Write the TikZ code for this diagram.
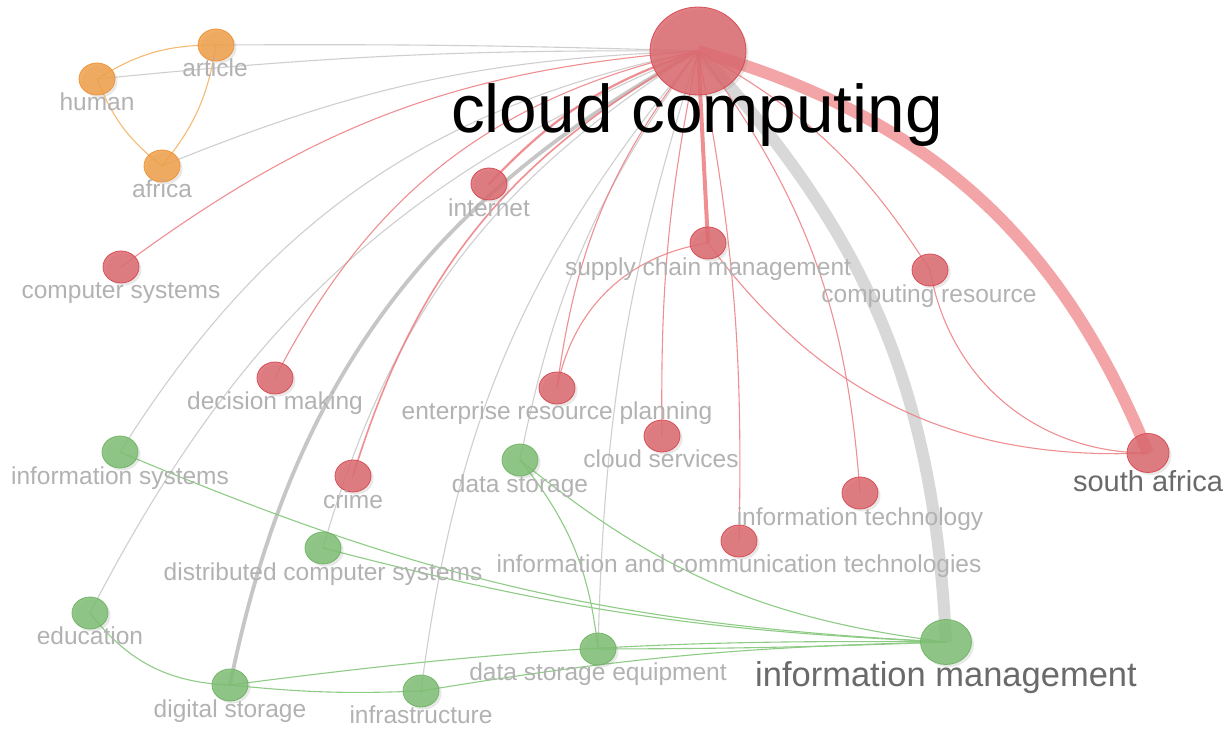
\documentclass[tikz,border=0pt]{standalone}
\usepackage{fontspec}
\setmainfont{Liberation Sans}
\usetikzlibrary{shapes.geometric,shadows}
\definecolor{rfill}{HTML}{DB6A70}
\definecolor{rdraw}{HTML}{D9444D}
\definecolor{ofill}{HTML}{F0A04A}
\definecolor{odraw}{HTML}{EE9030}
\definecolor{gfill}{HTML}{7FBE74}
\definecolor{gdraw}{HTML}{6DB262}
\definecolor{redge}{HTML}{EE7C80}
\definecolor{rthick}{HTML}{F3A0A3}
\definecolor{gedge}{HTML}{8ECC85}
\definecolor{oedge}{HTML}{F8BA72}
\definecolor{grayedge}{HTML}{CFCFCF}
\definecolor{grthick}{HTML}{D8D8D8}
\definecolor{grmid}{HTML}{C6C6C6}
\definecolor{lblgray}{HTML}{B2B2B2}
\definecolor{lbldark}{HTML}{6A6A6A}
\begin{document}
\begin{tikzpicture}[x=1pt,y=-1pt,
  vnode/.style={ellipse,inner sep=0pt,minimum width=36pt,minimum height=32pt,line width=0.8pt,
     fill opacity=0.85,draw opacity=0.9,
     drop shadow={shadow xshift=2.5pt,shadow yshift=-2.5pt,opacity=0.18}},
  rnode/.style={vnode,fill=rfill,draw=rdraw},
  onode/.style={vnode,fill=ofill,draw=odraw},
  gnode/.style={vnode,fill=gfill,draw=gdraw},
  lbl/.style={anchor=base,inner sep=0pt,text=lblgray,font=\fontsize{24.5}{24.5}\selectfont},
  e/.style={line width=1.1pt,line cap=round},
  re/.style={e,draw=redge,draw opacity=0.85},
  ge/.style={e,draw=grayedge},
  gre/.style={e,draw=gedge},
  oe/.style={e,draw=oedge},
]
\useasboundingbox (0,0) rectangle (1231,730);
\fill[white] (0,0) rectangle (1231,730);

\path
 (698,51) coordinate (cc0)
 (216,45) coordinate (art0)
 (97,79) coordinate (hum0)
 (162,166) coordinate (afr0)
 (121,267) coordinate (cs0)
 (489,184) coordinate (int0)
 (708,243) coordinate (scm0)
 (930,270) coordinate (cr0)
 (275,378) coordinate (dm0)
 (557,388) coordinate (erp0)
 (662,436) coordinate (csv0)
 (120,452) coordinate (is0)
 (353,476) coordinate (cri0)
 (520,460) coordinate (dst0)
 (1148,453) coordinate (sa0)
 (860,493) coordinate (it0)
 (739,541) coordinate (ict0)
 (323,548) coordinate (dcs0)
 (90,613) coordinate (edu0)
 (598,649) coordinate (dse0)
 (946,642) coordinate (im0)
 (230,685) coordinate (digs0)
 (421,691) coordinate (inf0);

% thick edges
\draw[e,draw=grthick,line width=12pt,line cap=butt] (cc0) to[bend left=20] (im0);
\draw[e,draw=rthick,line width=12pt,line cap=butt,draw opacity=0.95] (cc0) to[bend left=26] (sa0);
\draw[ge,line width=3.8pt,draw=grmid] (cc0) to[bend right=25] (digs0);

% gray edges from cloud computing
\draw[ge] (cc0) to[bend right=3] (hum0);
\draw[ge] (cc0) to[bend right=1] (art0);
\draw[ge] (cc0) to[bend right=10] (afr0);
\draw[ge] (cc0) to[bend right=23] (is0);
\draw[ge] (cc0) to[bend right=20] (edu0);
\draw[ge] (cc0) to[bend right=21] (dcs0);
\draw[ge] (cc0) to[bend right=16] (inf0);
\draw[ge] (cc0) to[bend right=12] (dst0);
\draw[ge] (cc0) to[bend right=8] (dse0);

% red edges from cloud computing
\draw[re] (cc0) to[bend right=16] (cs0);
\draw[re] (cc0) to[bend right=25] (dm0);
\draw[re,line width=2.2pt] (cc0) to[bend right=14] (int0);
\draw[re,line width=1.6pt] (cc0) to[bend right=22] (cri0);
\draw[re] (cc0) to[bend right=15] (erp0);
\draw[re] (cc0) to[bend right=6] (csv0);
\draw[re,line width=4pt,line cap=butt] (cc0) -- (scm0);
\draw[re] (cc0) to[bend left=6] (ict0);
\draw[re] (cc0) to[bend left=16] (it0);
\draw[re] (cc0) to[bend left=14] (cr0);

% other red edges
\draw[re] (scm0) to[bend right=35] (erp0);
\draw[re] (scm0) to[bend right=28] (sa0);
\draw[re] (cr0) to[bend right=40] (sa0);

% orange edges
\draw[oe] (hum0) to[bend left=16] (art0);
\draw[oe] (hum0) to[bend right=15] (afr0);
\draw[oe] (art0) to[bend left=15] (afr0);

% green edges
\draw[gre] (is0) to[bend right=10] (im0);
\draw[gre] (dcs0) to[bend right=6] (im0);
\draw[gre] (dst0) to[bend right=16] (im0);
\draw[gre] (dst0) to[bend left=16] (dse0);
\draw[gre] (dse0) to[bend right=1] (im0);
\draw[gre] (digs0) to[bend left=4] (im0);
\draw[gre] (digs0) to[bend right=4] (inf0);
\draw[gre] (inf0) to[bend left=4] (im0);
\draw[gre] (edu0) to[bend right=25] (digs0);

% ---------- nodes ----------
\node[rnode,minimum width=96pt,minimum height=88pt] (cc) at (cc0) {};
\node[onode] (art) at (art0) {};
\node[onode] (hum) at (hum0) {};
\node[onode] (afr) at (afr0) {};
\node[rnode] (cs) at (cs0) {};
\node[rnode] (int) at (int0) {};
\node[rnode] (scm) at (scm0) {};
\node[rnode] (cr) at (cr0) {};
\node[rnode] (dm) at (dm0) {};
\node[rnode] (erp) at (erp0) {};
\node[rnode] (csv) at (csv0) {};
\node[gnode] (is) at (is0) {};
\node[rnode] (cri) at (cri0) {};
\node[gnode] (dst) at (dst0) {};
\node[rnode,minimum width=42pt,minimum height=39pt] (sa) at (sa0) {};
\node[rnode] (it) at (it0) {};
\node[rnode] (ict) at (ict0) {};
\node[gnode] (dcs) at (dcs0) {};
\node[gnode] (edu) at (edu0) {};
\node[gnode] (dse) at (dse0) {};
\node[gnode,minimum width=51pt,minimum height=45pt] (im) at (im0) {};
\node[gnode] (digs) at (digs0) {};
\node[gnode] (inf) at (inf0) {};

% ---------- labels ----------
\node[lbl,text=black,font=\fontsize{67.5}{67.5}\selectfont] (cc-l) at (697,133) {cloud computing};
\node[lbl] (art-l) at (215,77) {article};
\node[lbl] (hum-l) at (97,111) {human};
\node[lbl] (afr-l) at (162,198) {africa};
\node[lbl] (cs-l) at (121,298) {computer systems};
\node[lbl] (int-l) at (489,216) {internet};
\node[lbl] (scm-l) at (708,275) {supply chain management};
\node[lbl] (cr-l) at (929,302) {computing resource};
\node[lbl] (dm-l) at (275,409) {decision making};
\node[lbl] (erp-l) at (557,419) {enterprise resource planning};
\node[lbl] (csv-l) at (661,467) {cloud services};
\node[lbl] (is-l) at (120,484) {information systems};
\node[lbl] (cri-l) at (353,508) {crime};
\node[lbl] (dst-l) at (520,492) {data storage};
\node[lbl,text=lbldark,font=\fontsize{29}{29}\selectfont] (sa-l) at (1148,491) {south africa};
\node[lbl] (it-l) at (860,525) {information technology};
\node[lbl] (ict-l) at (739,572) {information and communication technologies};
\node[lbl] (dcs-l) at (323,580) {distributed computer systems};
\node[lbl] (edu-l) at (90,644) {education};
\node[lbl] (dse-l) at (598,680) {data storage equipment};
\node[lbl,text=lbldark,font=\fontsize{34.5}{34.5}\selectfont] (im-l) at (946,686) {information management};
\node[lbl] (digs-l) at (230,717) {digital storage};
\node[lbl] (inf-l) at (421,723) {infrastructure};
\end{tikzpicture}
\end{document}
